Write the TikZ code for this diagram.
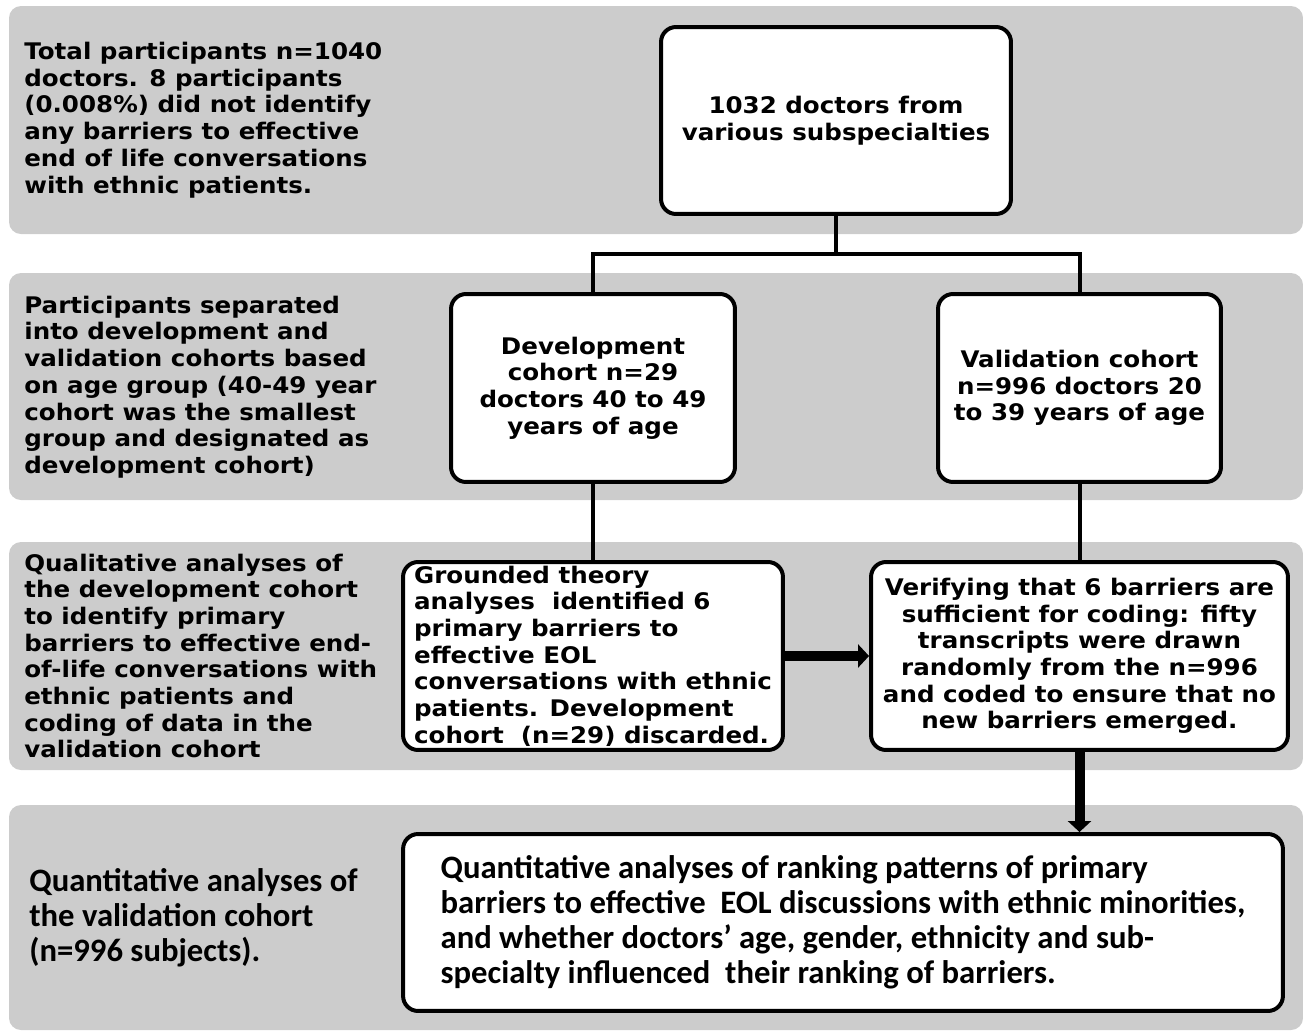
\documentclass[tikz,border=0pt]{standalone}
\usepackage{fontspec}
\setmainfont{DejaVu Sans}[FakeStretch=1.075]
\newfontfamily\calibrifont{Carlito}
\usetikzlibrary{positioning, arrows.meta}
\definecolor{bandgray}{RGB}{204,204,204}

\begin{document}
\begin{tikzpicture}[x=0.02cm, y=-0.02cm,
		band/.style={fill=bandgray, rounded corners=0.24cm},
		rowlabel/.style={anchor=west, align=left, inner sep=0pt, font=\bfseries\fontsize{13}{15.2}\selectfont},
		flowbox/.style={draw, line width=0.08cm, rounded corners=0.3cm, fill=white, align=center, inner sep=0pt, font=\bfseries\fontsize{13}{15.2}\selectfont},
		link/.style={line width=0.08cm},
		bigarrow/.style={line width=0.2cm, -{Triangle[length=0.22cm, width=0.46cm]}} ]
		\useasboundingbox (0,0) rectangle (1303,1032);
		\fill[band] (9,6) rectangle (1303,234);
		\fill[band] (9,273) rectangle (1303,500);
		\fill[band] (9,542) rectangle (1303,770);
		\fill[band] (9,805) rectangle (1303,1030);

		\node[rowlabel] (row1) at (24,120) {Total participants n=1040\\doctors. 8 participants\\(0.008\%) did not identify\\any barriers to effective\\end of life conversations\\with ethnic patients.};
		\node[rowlabel] (row2) at (24,387) {Participants separated\\into development and\\validation cohorts based\\on age group (40-49 year\\cohort was the smallest\\group and designated as\\development cohort)};
		\node[rowlabel] (row3) at (24,656) {Qualitative analyses of\\the development cohort\\to identify primary\\barriers to effective end-\\of-life conversations with\\ethnic patients and\\coding of data in the\\validation cohort};
		\node[rowlabel, font=\calibrifont\bfseries\fontsize{18.6}{20}\selectfont] (row4) at (29,918) {Quantitative analyses of\\the validation cohort\\(n=996 subjects).};

		\node[flowbox, minimum width=7cm, minimum height=3.74cm] (top) at (836,120.5) {1032 doctors from\\various subspecialties};
		\node[flowbox, minimum width=5.68cm, minimum height=3.76cm] (dev) at (593,388) {Development\\cohort n=29\\doctors 40 to 49\\years of age};
		\node[flowbox, minimum width=5.66cm, minimum height=3.76cm] (val) at (1079.5,388) {Validation cohort\\n=996 doctors 20\\to 39 years of age};
		\node[flowbox, align=left, minimum width=7.6cm, minimum height=3.76cm] (grounded) at (593,656) {Grounded theory\\analyses \ identified 6\\primary barriers to\\effective EOL\\conversations with ethnic\\patients. Development\\cohort \ (n=29) discarded.};
		\node[flowbox, minimum width=8.34cm, minimum height=3.76cm] (verify) at (1079.5,656) {Verifying that 6 barriers are\\sufficient for coding: fifty\\transcripts were drawn\\randomly from the n=996\\and coded to ensure that no\\new barriers emerged.};
		\node[flowbox, align=left, minimum width=17.6cm, minimum height=3.54cm, font=\calibrifont\bfseries\fontsize{18.6}{20}\selectfont] (final) at (843,922.5) {Quantitative analyses of ranking patterns of primary\\barriers to effective \ EOL discussions with ethnic minorities,\\and whether doctors’ age, gender, ethnicity and sub-\\specialty influenced \ their ranking of barriers.};

		\coordinate (split) at (836,254);
		\draw[link] (top.south) -- (split);
		\draw[link] (dev.north) |- (split) -| (val.north);
		\draw[link] (dev.south) -- (grounded.north);
		\draw[link] (val.south) -- (verify.north);
		\draw[bigarrow] (grounded.east) -- (verify.west);
		\draw[bigarrow] (verify.south) -- (verify.south |- final.north);
	\end{tikzpicture}
\end{document}
